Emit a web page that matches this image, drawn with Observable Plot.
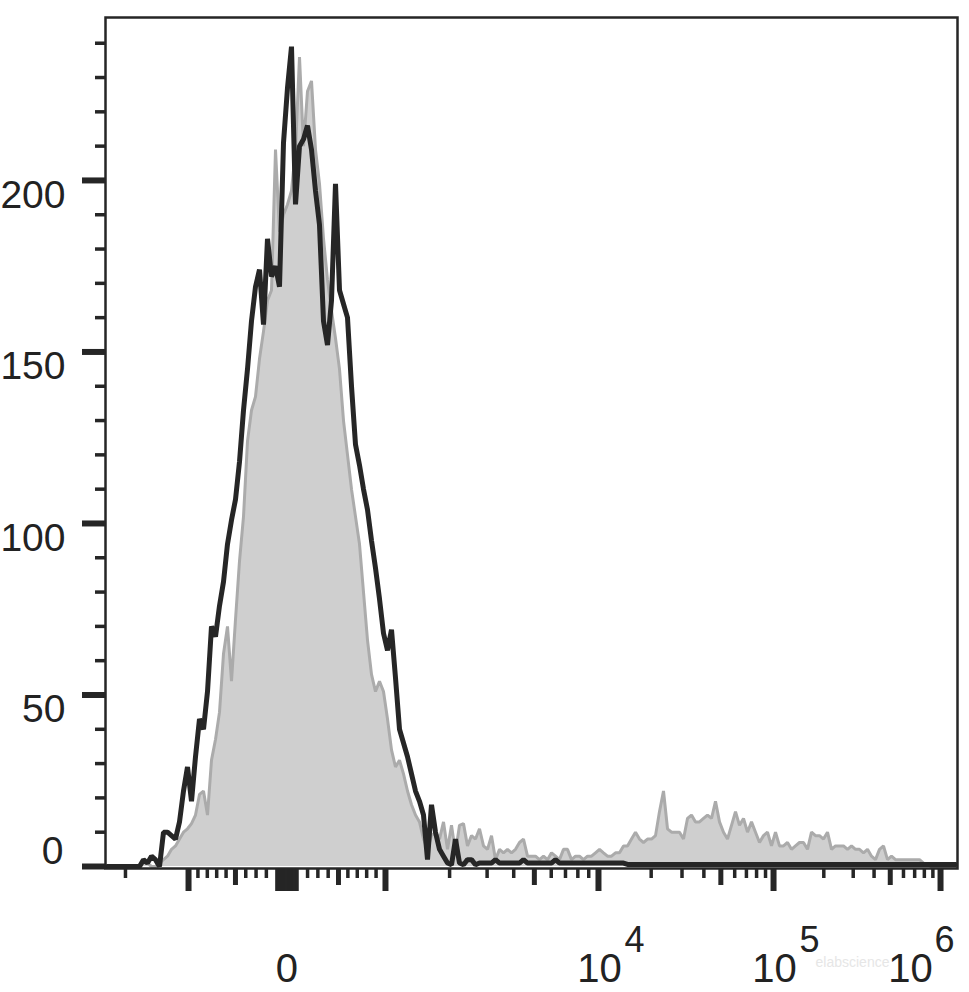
<!DOCTYPE html>
<html><head><meta charset="utf-8">
<script src="https://cdn.jsdelivr.net/npm/d3@7"></script>
<script src="https://cdn.jsdelivr.net/npm/@observablehq/plot@0.6"></script>
<style>html,body{margin:0;padding:0;background:#fff;} #chart svg{display:block}</style>
</head><body><div id="chart"></div>
<script>
// Histogram counts per display bin (bins uniform in biexponential display space)
const blackCounts = [
  0,0,0,0,0,0,0,0,0,2,
  1,3,2,0,10,10,9,8,13,22,
  29,19,32,43,40,51,70,67,76,83,
  94,101,107,118,133,145,159,169,174,158,
  183,172,175,169,211,227,239,193,210,212,
  216,209,197,187,159,152,165,199,168,164,
  160,140,123,117,110,104,95,87,78,68,
  63,69,55,40,36,32,27,22,19,15,
  2,18,10,5,3,1,0.5,8,1,0.5,
  2,2,0.5,1,1,1,1,2,1,1,
  1,1,1,1,2,1,1,1,1,1,
  1,1,2,1,1,1,1,1,1,1,
  1,1,1,1,1,1,1,1,1,1,
  0.6,0.6,0.6,0.6,0.6,0.6,0.6,0.6,0.6,0.6,
  0.6,0.6,0.6,0.6,0.6,0.6,0.6,0.6,0.6,0.6,
  0.6,0.6,0.6,0.6,0.6,0.6,0.6,0.6,0.6,0.6,
  0.6,0.6,0.6,0.6,0.6,0.6,0.6,0.6,0.6,0.6,
  0.6,0.6,0.6,0.6,0.6,0.6,0.6,0.6,0.6,0.6,
  0.6,0.6,0.6,0.6,0.6,0.6,0.6,0.6,0.6,0.6,
  0.6,0.6,0.6,0.6,0.6,0.6,0.6,0.6,0.6,0.6,
  0.6,0.6,0.6,0.6,0.6,0.6,0.6,0.6,0.6,0.6,
  0.6,0.6,0.6
];
const grayCounts = [
  0,0,0,0,0,0,0,0,0,1,
  1,0,0,1,2,3,5,6,8,10,
  11,12.5,15,21,22,15,31,37,45,62,
  70,54,72,89,102,124,133,137,148,156,
  165,168,209,185,190,193,197,209,236,210,
  226,229,209,199,183,171,162,154,145,130,
  120,110,102,94,80,66,56,51,54,51,
  43,34,29,31,27,22,18,15,13,8,
  5,9,10,8,13,5,12,4,12,12.5,
  6,9,8,11,6,5,9,2,5,4,
  5,4,5,7,8,3,3,3,2,3,
  2,4,3,2,5,5,2,3,3,2,
  3,3,4,5,4,3,3,4,4,6,
  6,8,10,8,7,8,8,9,16,22,
  11,10,10,10,8,14,15,13,13,14,
  15,14,19,13,10,8,12,16,12,14,
  10,13,10,7,9,10,6,10,6,6,
  7,5,6,7,7,5,10,9,9,8,
  10,5,6,6,6,5,6,5,5,4,
  5,3,2,5,6,2,3,2,2,2,
  2,2,2,2,1,0.5,0,0,0,0,
  0,0,0
];

// Biexponential display: knots (value -> display channel, 0..1024)
const CHANNELS = 1024;
const knotValues   = [-2000, -1000, -500, 0, 500, 1000, 1e4, 1e5, 1e6];
const knotChannels = [24.0, 99.8, 156.2, 218.1, 280.0, 336.5, 592.5, 802.9, 1003.6];

// Ticks
const yMajorTicks = [0, 50, 100, 150, 200];
const yLabelTicks = [50, 100, 150, 200];
const yZeroLabel = [0];
const yMinorTicks = [10,20,30,40,60,70,80,90,110,120,130,140,160,170,180,190,210,220,230,240];
const xLongTicks = [-1000, 0, 1000, 1e4, 1e5, 1e6];
const xZeroBlockTicks = [-100,-90,-80,-70,-60,-50,-40,-30,-20,-10,10,20,30,40,50,60,70,80,90,100];
const xMidTicks = [-500, 500, 5000, 5e4, 5e5];
const xShortTicks = [-2000,-900,-800,-700,-600,-400,-300,-200,
  200,300,400,600,700,800,900,
  2000,3000,4000,6000,7000,8000,9000,
  2e4,3e4,4e4,6e4,7e4,8e4,9e4,
  2e5,3e5,4e5,6e5,7e5,8e5,9e5];
const xZeroLabel = [0];
const xDecadeLabels = [1e4, 1e5];
const xLastDecadeLabel = [1e6];
const watermark = ["elabscience"];

function biex(v) {
  const V = knotValues, C = knotChannels;
  let j;
  if (v <= V[0]) j = 0;
  else if (v >= V[V.length - 1]) j = V.length - 2;
  else { j = 0; while (!(v >= V[j] && v <= V[j + 1])) j++; }
  const a = V[j], b = V[j + 1];
  let t;
  if (Math.abs(a) >= 1000 && Math.abs(b) >= 1000 && Math.sign(a) === Math.sign(b)) {
    t = (Math.log10(Math.abs(v)) - Math.log10(Math.abs(a))) / (Math.log10(Math.abs(b)) - Math.log10(Math.abs(a)));
  } else {
    t = (v - a) / (b - a);
  }
  return C[j] + t * (C[j + 1] - C[j]);
}

const N = blackCounts.length;
const bins = blackCounts.map((c, i) => ({ch: (i + 0.5) * CHANNELS / N, black: c, gray: grayCounts[i]}));

const FONT = "Liberation Sans, Arial, Helvetica, sans-serif";
const INK = "#262626";
const blank = () => "";

const chart = Plot.plot({
  width: 969, height: 992,
  marginLeft: 105, marginRight: 12, marginTop: 17, marginBottom: 124,
  x: {domain: [0, CHANNELS]},
  y: {domain: [0, 247.5], insetBottom: 2},
  style: {fontFamily: FONT, color: "#222", background: "#fff"},
  marks: [
    Plot.text(watermark, {frameAnchor: "bottom-right", dx: -105, dy: 89, lineAnchor: "top", textAnchor: "middle", fontSize: 14, fill: "#e6e6e6", fontFamily: FONT}),
    Plot.areaY(bins, {x: "ch", y: "gray", fill: "#cfcfcf"}),
    Plot.lineY(bins, {x: "ch", y: "gray", stroke: "#ababab", strokeWidth: 3, strokeLinejoin: "miter"}),
    Plot.lineY(bins, {x: "ch", y: "black", stroke: INK, strokeWidth: 5, strokeLinejoin: "miter"}),
    Plot.frame({stroke: INK, strokeWidth: 2.5}),
    // Y ticks
    Plot.axisY({ticks: yMajorTicks, tickSize: 23, strokeWidth: 6, stroke: INK, tickFormat: blank, label: null}),
    Plot.axisY({ticks: yMinorTicks, tickSize: 10, strokeWidth: 3.5, stroke: INK, tickFormat: blank, label: null}),
    Plot.axisY({ticks: yLabelTicks, tickSize: 0, tickPadding: 40, dy: 15, fontSize: 39, fontFamily: FONT, fill: "#222", label: null}),
    Plot.axisY({ticks: yZeroLabel, tickSize: 0, tickPadding: 42, dy: -15, fontSize: 39, fontFamily: FONT, fill: "#222", label: null}),
    // X ticks
    Plot.axisX({ticks: xLongTicks.map(biex), tickSize: 23, strokeWidth: 6, stroke: INK, tickFormat: blank, label: null}),
    Plot.axisX({ticks: xZeroBlockTicks.map(biex), tickSize: 23, strokeWidth: 3, stroke: INK, tickFormat: blank, label: null}),
    Plot.axisX({ticks: xMidTicks.map(biex), tickSize: 17, strokeWidth: 5, stroke: INK, tickFormat: blank, label: null}),
    Plot.axisX({ticks: xShortTicks.map(biex), tickSize: 10, strokeWidth: 3.5, stroke: INK, tickFormat: blank, label: null}),
    // X labels
    Plot.text(xZeroLabel, {x: d => biex(d), text: () => "0", frameAnchor: "bottom", lineAnchor: "top", dy: 85, fontSize: 40, fill: "#222", fontFamily: FONT}),
    Plot.text(xDecadeLabels, {x: d => biex(d), text: () => "10", frameAnchor: "bottom", lineAnchor: "top", dy: 85, dx: 1, fontSize: 40, fill: "#222", fontFamily: FONT}),
    Plot.text(xDecadeLabels, {x: d => biex(d), text: d => String(Math.round(Math.log10(d))), frameAnchor: "bottom", lineAnchor: "top", dy: 58, dx: 36, fontSize: 36, fill: "#222", fontFamily: FONT}),
    Plot.text(xLastDecadeLabel, {x: d => biex(d), text: () => "10", frameAnchor: "bottom", lineAnchor: "top", dy: 85, dx: -30, fontSize: 40, fill: "#222", fontFamily: FONT}),
    Plot.text(xLastDecadeLabel, {x: d => biex(d), text: d => String(Math.round(Math.log10(d))), frameAnchor: "bottom", lineAnchor: "top", dy: 58, dx: 4, fontSize: 36, fill: "#222", fontFamily: FONT})
  ]
});
document.getElementById("chart").appendChild(chart);
</script>
</body></html>
